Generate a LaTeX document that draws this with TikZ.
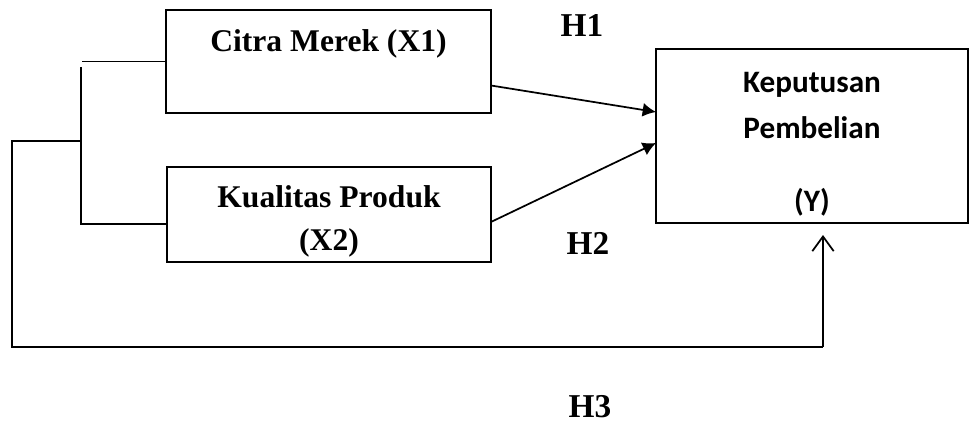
\documentclass[tikz,border=0pt]{standalone}
\usepackage{fontspec}
\setmainfont{Liberation Serif}
\newfontfamily\calibri{Carlito}
\usetikzlibrary{positioning,arrows.meta}
\tikzset{varbox/.style={draw,line width=1.3pt,inner sep=0pt,outer sep=0pt,anchor=north west,align=center,
        font=\bfseries\fontsize{23.7}{32}\selectfont},
        hyp/.style={inner sep=0pt,font=\bfseries\fontsize{25}{28}\selectfont},
        link/.style={line width=1.3pt},
        effect/.style={line width=1.3pt,-{Latex[length=10pt,width=10.5pt]}}}

\begin{document}
\begin{tikzpicture}[x=0.75pt,y=0.75pt]
  \useasboundingbox (0,0) rectangle (969,-424);
  \node[varbox,minimum width=243.75pt,minimum height=77.25pt] (x1) at (166,-10) {Citra Merek (X1)\\\mbox{}};
  \node[varbox,minimum width=243pt,minimum height=71.25pt] (x2) at (167,-167)
        {\rule{0pt}{26.5pt}Kualitas Produk\\(X2)};
  \node[varbox,minimum width=234pt,minimum height=130.5pt,
        font=\calibri\bfseries\fontsize{23.4}{34}\selectfont] (y) at (656,-49)
        {\rule{0pt}{28pt}Keputusan\\Pembelian\\[21pt](Y)};
  \node[hyp] (h1) at (582,-25) {H1};
  \node[hyp] (h2) at (588,-243) {H2};
  \node[hyp] (h3) at (590,-407) {H3};
  % bracket joining X1 and X2, then round to Y
  \coordinate (ktop) at (81,-67);
  \coordinate (kbot) at (81,-224);
  \coordinate (kmid) at (81,-141);
  \coordinate (lcorner) at (12,-141);
  \coordinate (bcorner) at (12,-347);
  \coordinate (rcorner) at (823,-347);
  \coordinate (ytip) at (823,-235);
  \draw[link] (x1.west) -- (x1.west -| 82,0);
  \draw[link] (ktop) -- (kbot) -- (kbot -| x2.west);
  \draw[link] (kmid) -- (lcorner) -- (bcorner) -- (rcorner);
  \draw[link,-{Straight Barb[length=11pt,width=16pt]}] (rcorner) -- (ytip);
  \draw[effect] ([yshift=-18pt]x1.east) -- ([yshift=18pt]y.west);
  \draw[effect] ([yshift=-5.6pt]x2.east) -- ([yshift=-5.25pt]y.west);
\end{tikzpicture}
\end{document}
